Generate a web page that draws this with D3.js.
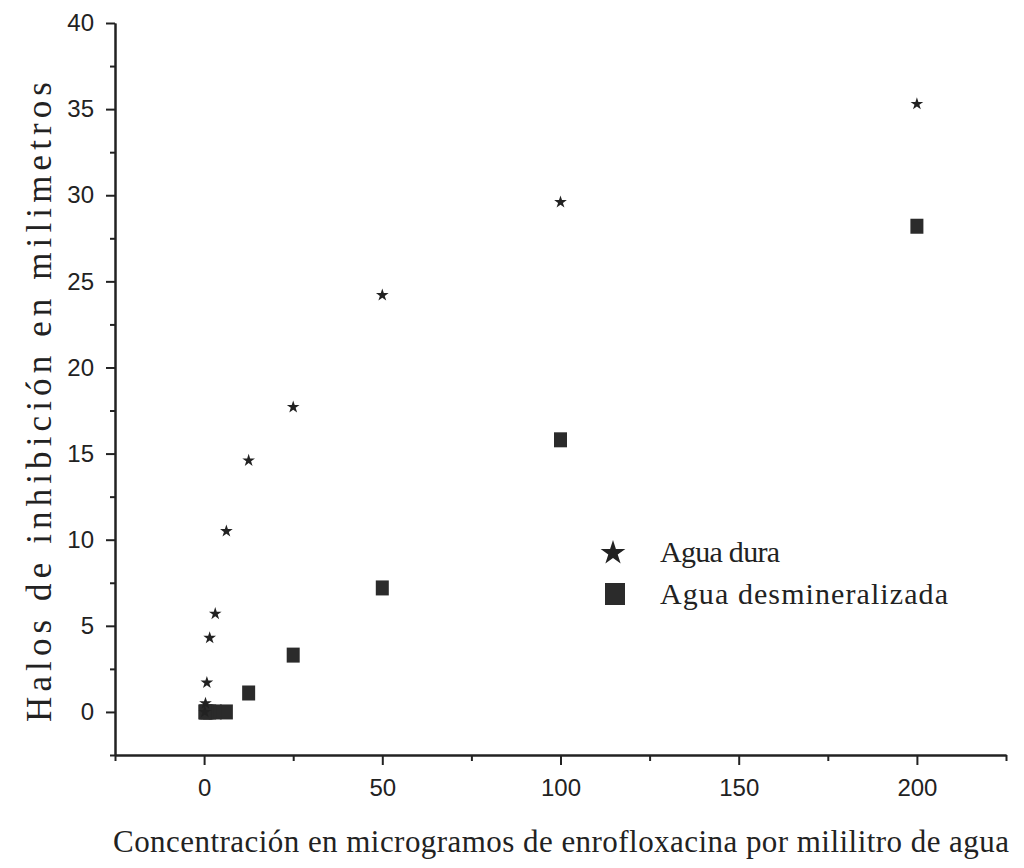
<!DOCTYPE html>
<html lang="es">
<head>
<meta charset="UTF-8">
<title>Halos de inhibición</title>
<style>
body { margin: 0; background: #fff; }
.axis path, .axis line { stroke: #222; stroke-width: 2; }
.axis text { font-family: "Liberation Sans", Arial, sans-serif; font-size: 24px; fill: #222; }
.title { font-family: "Liberation Serif", "Times New Roman", serif; fill: #222; }
</style>
</head>
<body>
<svg width="1024" height="868"></svg>
<script src="https://d3js.org/d3.v7.min.js"></script>
<script>

// concentrations (µg/ml) of the dilution series
let conc = [200, 100, 50, 25, 12.5, 6.25, 3.125, 1.5625, 0.78, 0.39, 0.195];

// halo diameters in mm
let aguaDura = [35.3, 29.6, 24.2, 17.7, 14.6, 10.5, 5.7, 4.3, 1.7, 0.5, 0];
let aguaDesmin = [28.2, 15.8, 7.2, 3.3, 1.1, 0, 0, 0, 0, 0, 0];

let xTicks = [0, 50, 100, 150, 200];
let yTicks = [0, 5, 10, 15, 20, 25, 30, 35, 40];

let seriesNames = ['Agua dura', 'Agua desmineralizada'];

var svg = d3.select('svg');

var x = d3.scaleLinear().domain([-25, 225]).range([115, 1006]);
var y = d3.scaleLinear().domain([-2.5, 40]).range([755, 23]);

var ink = '#222';

// minor ticks: halfway between the labelled ones
var xMinor = xTicks.map(d => d - 25).concat([225]);
var yMinor = yTicks.slice(0, -1).map(d => d - 2.5).concat([37.5]);

svg.append('g')
    .attr('class', 'axis')
    .attr('transform', `translate(0, ${y(-2.5)})`)
    .call(d3.axisBottom(x).tickValues(xMinor).tickSize(6).tickSizeOuter(0).tickFormat(''));

svg.append('g')
    .attr('class', 'axis')
    .attr('transform', `translate(0, ${y(-2.5)})`)
    .call(d3.axisBottom(x).tickValues(xTicks).tickSize(10).tickSizeOuter(0).tickPadding(14));

svg.append('g')
    .attr('class', 'axis')
    .attr('transform', `translate(${x(-25)}, 0)`)
    .call(d3.axisLeft(y).tickValues(yMinor).tickSize(5).tickSizeOuter(0).tickFormat(''));

svg.append('g')
    .attr('class', 'axis')
    .attr('transform', `translate(${x(-25)}, 0)`)
    .call(d3.axisLeft(y).tickValues(yTicks).tickSize(9).tickSizeOuter(0).tickPadding(12));

// squares first, stars on top
var sqW = 13, sqH = 15;
svg.append('g')
    .selectAll('rect')
    .data(conc.map((c, i) => ({ c: c, v: aguaDesmin[i] })))
    .join('rect')
    .attr('x', d => x(d.c) - sqW / 2)
    .attr('y', d => y(d.v) - sqH / 2)
    .attr('width', sqW)
    .attr('height', sqH)
    .attr('fill', '#2b2b2b');

var star = d3.symbol().type(d3.symbolStar).size(50);
svg.append('g')
    .selectAll('path')
    .data(conc.map((c, i) => ({ c: c, v: aguaDura[i] })))
    .join('path')
    .attr('d', star)
    .attr('transform', d => `translate(${x(d.c)}, ${y(d.v)})`)
    .attr('fill', ink);

// legend
var legend = svg.append('g');
legend.append('path')
    .attr('d', d3.symbol().type(d3.symbolStar).size(190))
    .attr('transform', 'translate(613, 553)')
    .attr('fill', ink);
legend.append('rect')
    .attr('x', 605).attr('y', 583)
    .attr('width', 20).attr('height', 22)
    .attr('fill', '#2b2b2b');
legend.selectAll('text')
    .data(seriesNames)
    .join('text')
    .attr('class', 'title')
    .attr('x', 660)
    .attr('y', (d, i) => 562 + i * 42)
    .attr('font-size', 30)
    .attr('textLength', (d, i) => i === 0 ? 120 : 288)
    .attr('lengthAdjust', 'spacing')
    .text(d => d);

// axis titles
svg.append('text')
    .attr('class', 'title')
    .attr('x', 113)
    .attr('y', 852)
    .attr('font-size', 31)
    .attr('textLength', 896)
    .attr('lengthAdjust', 'spacing')
    .text('Concentración en microgramos de enrofloxacina por mililitro de agua');

svg.append('text')
    .attr('class', 'title')
    .attr('transform', 'translate(51, 722) rotate(-90)')
    .attr('font-size', 35)
    .attr('textLength', 640)
    .attr('lengthAdjust', 'spacing')
    .text('Halos de inhibición en milimetros');

</script>
</body>
</html>
